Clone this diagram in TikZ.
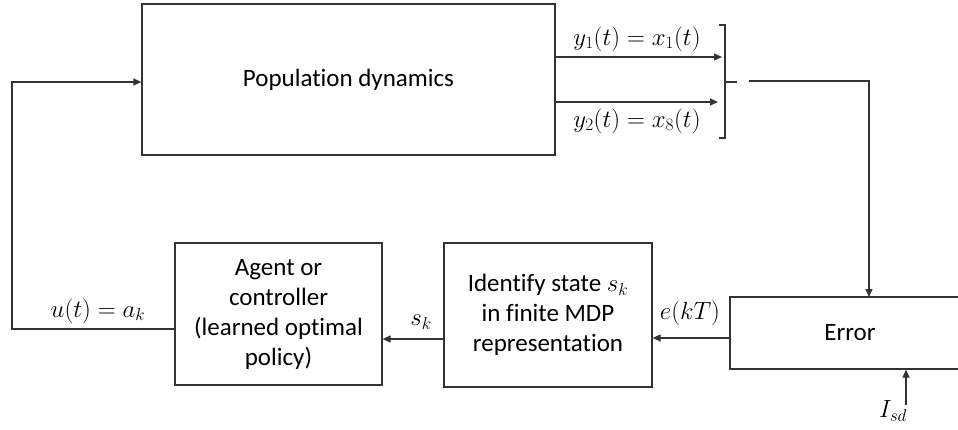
\documentclass[tikz,border=0pt]{standalone}
\usepackage{fontspec}
\setmainfont{Carlito}[Ligatures=NoCommon]
\usetikzlibrary{arrows.meta}
\begin{document}
\begin{tikzpicture}[x=1pt,y=-1pt,
  line width=1.2pt,
  ln/.style={draw=black!80},
  box/.style={draw=black!80, line width=1.2pt, rectangle, align=center, inner sep=0pt,
    font=\fontsize{25}{30}\selectfont},
  lbl/.style={font=\fontsize{26}{30}\selectfont, inner sep=0pt},
  arr/.style={ln, -{Triangle[length=8pt,width=7pt]}}]
\useasboundingbox (0,0) rectangle (958,429);
\fill[white] (0,0) rectangle (958,429);
\clip (0,0) rectangle (958,429);

\node[box, minimum width=413pt, minimum height=151pt] (pop) at (348.5,79.5) {Population dynamics};
\node[box, minimum width=207pt, minimum height=142pt] (agent) at (278.5,314) {Agent or\\controller\\(learned optimal\\policy)};
\node[box, minimum width=208pt, minimum height=144pt] (ident) at (548,315) {Identify state $s_k$\\in finite MDP\\representation};
\node[box, minimum width=240pt, minimum height=72pt] (err) at (850,333) {Error};

% outputs
\coordinate (y1e) at (722,57);
\coordinate (y2e) at (718,102);
\draw[arr] (pop.east |- y1e) -- (y1e);
\draw[arr] (pop.east |- y2e) -- (y2e);
\node[lbl] (y1l) at (637,39) {$y_1(t)=x_1(t)$};
\node[lbl] (y2l) at (637,121) {$y_2(t)=x_8(t)$};

% bracket
\coordinate (bt) at (725,25);
\coordinate (bb) at (725,138);
\coordinate (bm) at (725,82);
\coordinate (bmt) at (737,82);
\draw[ln] (719,25) -- (bt) -- (bb) -- (719,138);
\draw[ln] (bm) -- (bmt);

% to error
\coordinate (ls) at (749,81);
\draw[arr] (ls) -- (869,81) -- (869,297);

% error -> identify
\draw[arr] (err.west |- 0,338) -- (ident.east |- 0,338);
\node[lbl] (ekt) at (690,313) {$e(kT)$};

% identify -> agent
\draw[arr] (ident.west |- 0,339) -- (agent.east |- 0,339);
\node[lbl] (skl) at (421,322) {$s_k$};

% feedback
\coordinate (fb1) at (12,329);
\coordinate (fb2) at (12,82);
\draw[arr] (agent.west |- fb1) -- (fb1) -- (fb2) -- (pop.west |- fb2);
\node[lbl] (ul) at (98,311) {$u(t)=a_k$};

% Isd
\coordinate (isd) at (906,405);
\draw[arr] (isd) -- (isd |- err.south);
\node[lbl] (isdl) at (893,411) {$I_{sd}$};
\end{tikzpicture}
\end{document}
